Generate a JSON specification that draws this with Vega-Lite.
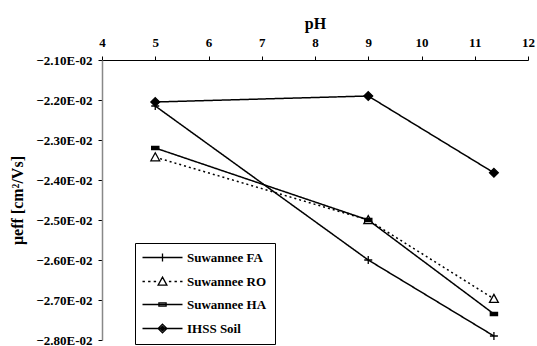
{
  "$schema": "https://vega.github.io/schema/vega-lite/v6.json",
  "autosize": "none",
  "padding": {"left": 102, "top": 60, "right": 9, "bottom": 6},
  "width": 426,
  "height": 280,
  "config": {
    "view": {"stroke": null},
    "font": "Liberation Serif",
    "axis": {"grid": false, "labelFont": "Liberation Serif", "titleFont": "Liberation Serif", "labelFontWeight": "bold", "titleFontWeight": "bold", "labelColor": "black", "titleColor": "black", "tickColor": "black"},
    "legend": {"labelFont": "Liberation Serif", "labelFontWeight": "bold", "labelFontSize": 13, "labelColor": "black", "padding": 8, "strokeColor": "black", "fillColor": "white", "labelOffset": 31, "rowPadding": 9, "symbolSize": 64, "symbolStrokeWidth": 1.3}
  },
  "data": {
    "values": [
      {"series": "Suwannee FA", "pH": 5, "mu": -0.02215},
      {"series": "Suwannee FA", "pH": 9, "mu": -0.0260},
      {"series": "Suwannee FA", "pH": 11.36, "mu": -0.02790},
      {"series": "Suwannee RO", "pH": 5, "mu": -0.02343},
      {"series": "Suwannee RO", "pH": 9, "mu": -0.0250},
      {"series": "Suwannee RO", "pH": 11.36, "mu": -0.02697},
      {"series": "Suwannee HA", "pH": 5, "mu": -0.0232},
      {"series": "Suwannee HA", "pH": 9, "mu": -0.0250},
      {"series": "Suwannee HA", "pH": 11.36, "mu": -0.02735},
      {"series": "IHSS Soil", "pH": 5, "mu": -0.02205},
      {"series": "IHSS Soil", "pH": 9, "mu": -0.0219},
      {"series": "IHSS Soil", "pH": 11.36, "mu": -0.02382}
    ]
  },
  "encoding": {
    "x": {
      "field": "pH", "type": "quantitative",
      "scale": {"domain": [4, 12], "nice": false, "zero": false},
      "axis": {"orient": "top", "title": "pH", "values": [4, 5, 6, 7, 8, 9, 10, 11, 12], "format": "d", "labelFontSize": 13, "titleFontSize": 16, "tickSize": 4, "labelPadding": 7, "titlePadding": 5, "domainColor": "black", "labelFlush": false}
    },
    "y": {
      "field": "mu", "type": "quantitative",
      "scale": {"domain": [-0.028, -0.021], "nice": false, "zero": false},
      "axis": {"title": "μeff [cm²/Vs]", "values": [-0.021, -0.022, -0.023, -0.024, -0.025, -0.026, -0.027, -0.028], "labelExpr": "format(datum.value*100, '.2f') + 'E-02'", "labelFontSize": 13, "titleFontSize": 16, "tickSize": 4, "labelPadding": 6, "titlePadding": 10, "domainColor": "#888888", "domainWidth": 1.5, "labelFlush": false}
    }
  },
  "resolve": {"scale": {"shape": "independent"}, "legend": {"shape": "independent"}},
  "layer": [
    {
      "mark": {"type": "line", "color": "black", "strokeWidth": 1.5},
      "encoding": {
        "strokeDash": {
          "field": "series", "type": "nominal",
          "scale": {"domain": ["Suwannee FA", "Suwannee RO", "Suwannee HA", "IHSS Soil"], "range": [[1, 0], [2, 3], [1, 0], [1, 0]]},
          "legend": null
        }
      }
    },
    {
      "mark": {"type": "point", "filled": false, "stroke": "black", "strokeWidth": 1.3, "opacity": 1, "size": 64},
      "encoding": {
        "shape": {
          "field": "series", "type": "nominal",
          "scale": {"domain": ["Suwannee FA", "Suwannee RO", "Suwannee HA", "IHSS Soil"], "range": ["M-1,0L1,0M0,-1L0,1", "M0,-1.1L1.1,0.9L-1.1,0.9Z", "M-0.9,-0.4L0.9,-0.4L0.9,0.4L-0.9,0.4Z", "M0,-1.1L1.1,0L0,1.1L-1.1,0Z"]},
          "legend": null
        },
        "fill": {
          "field": "series", "type": "nominal",
          "scale": {"domain": ["Suwannee FA", "Suwannee RO", "Suwannee HA", "IHSS Soil"], "range": ["black", "white", "black", "black"]},
          "legend": null
        }
      }
    },
    {
      "transform": [{"filter": "datum.pH > 100"}],
      "mark": {"type": "point", "filled": false, "stroke": "black", "strokeWidth": 1.3, "opacity": 1, "size": 64},
      "encoding": {
        "shape": {
          "field": "series", "type": "nominal",
          "scale": {"domain": ["Suwannee FA", "Suwannee RO", "Suwannee HA", "IHSS Soil"], "range": [
            "M-1.75,0L8.25,0M3.25,-1L3.25,1",
            "M-1.75,0L-1.15,0M-0.35,0L0.25,0M1.05,0L1.65,0M4.85,0L5.45,0M6.25,0L6.85,0M7.65,0L8.25,0M3.25,-1.1L4.35,0.9L2.15,0.9Z",
            "M-1.75,0L8.25,0M2.35,-0.4L4.15,-0.4L4.15,0.4L2.35,0.4ZM2.35,0L4.15,0",
            "M-1.75,0L8.25,0M3.25,-1.1L4.35,0L3.25,1.1L2.15,0ZM3.25,-0.6L3.85,0L3.25,0.6L2.65,0ZM3.25,-0.25L3.5,0L3.25,0.25L3,0Z"
          ]},
          "legend": {"title": null, "orient": "none", "legendX": 33, "legendY": 183, "labelFont": "Liberation Serif", "labelFontWeight": "bold", "labelFontSize": 13, "labelColor": "black", "symbolStrokeColor": "black", "symbolStrokeWidth": 1.3}
        }
      }
    }
  ]
}
